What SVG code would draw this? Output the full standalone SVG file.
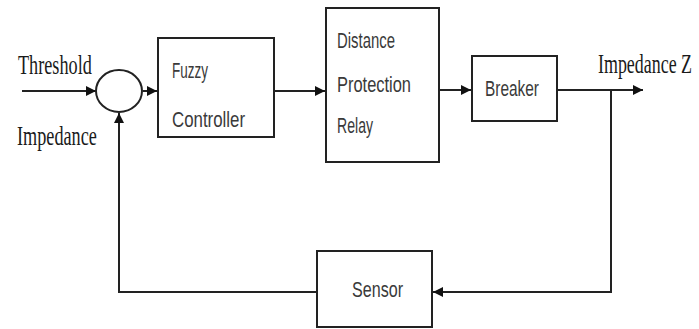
<svg xmlns="http://www.w3.org/2000/svg" width="699" height="329" viewBox="0 0 699 329">
<defs>
<style>
.box{fill:#fff;stroke:#222;stroke-width:2}
.ln{fill:none;stroke:#222;stroke-width:2}
.lbl{font-family:"Liberation Sans",Arial,sans-serif;font-size:22px;fill:#3a3a3a}
.ser{font-family:"Liberation Serif","Times New Roman",serif;font-size:28px;fill:#1a1a1a}
</style>
<marker id="arr" viewBox="0 0 10 10" refX="10" refY="5" markerWidth="5" markerHeight="5" orient="auto" markerUnits="strokeWidth">
<path d="M0,0 L10,5 L0,10 z" fill="#111"/>
</marker>
</defs>
<rect width="699" height="329" fill="#fff"/>
<g id="connectors">
<line class="ln" x1="22" y1="91" x2="96" y2="91" marker-end="url(#arr)"/>
<line class="ln" x1="143" y1="91" x2="157" y2="91" marker-end="url(#arr)"/>
<line class="ln" x1="274" y1="91" x2="325" y2="91" marker-end="url(#arr)"/>
<line class="ln" x1="439" y1="90" x2="471" y2="90" marker-end="url(#arr)"/>
<line class="ln" x1="557" y1="90" x2="643" y2="90" marker-end="url(#arr)"/>
<polyline class="ln" points="611,90 611,292 433,292" marker-end="url(#arr)"/>
<polyline class="ln" points="317,292 119,292 119,113" marker-end="url(#arr)"/>
</g>
<g id="sum">
<ellipse cx="119" cy="91" rx="23" ry="21" class="box"/>
</g>
<g id="fuzzy">
<rect x="158" y="38" width="116" height="99" class="box"/>
<text class="lbl" x="172" y="78" textLength="36" lengthAdjust="spacingAndGlyphs">Fuzzy</text>
<text class="lbl" x="172" y="127" textLength="73" lengthAdjust="spacingAndGlyphs">Controller</text>
</g>
<g id="relay">
<rect x="326" y="8" width="113" height="154" class="box"/>
<text class="lbl" x="337" y="48" textLength="58" lengthAdjust="spacingAndGlyphs">Distance</text>
<text class="lbl" x="337" y="92" textLength="74" lengthAdjust="spacingAndGlyphs">Protection</text>
<text class="lbl" x="337" y="133" textLength="36" lengthAdjust="spacingAndGlyphs">Relay</text>
</g>
<g id="breaker">
<rect x="472" y="56" width="85" height="65" class="box"/>
<text class="lbl" x="485" y="96" textLength="54" lengthAdjust="spacingAndGlyphs">Breaker</text>
</g>
<g id="sensor">
<rect x="317" y="251" width="115" height="76" class="box"/>
<text class="lbl" x="352" y="297" textLength="51" lengthAdjust="spacingAndGlyphs">Sensor</text>
</g>
<g id="labels">
<text class="ser" transform="translate(18,74) scale(0.65,1)" x="0" y="0">Threshold</text>
<text class="ser" transform="translate(17,145) scale(0.65,1)" x="0" y="0">Impedance</text>
<text class="ser" transform="translate(598,73) scale(0.64,1)" x="0" y="0">Impedance Z</text>
</g>
</svg>
